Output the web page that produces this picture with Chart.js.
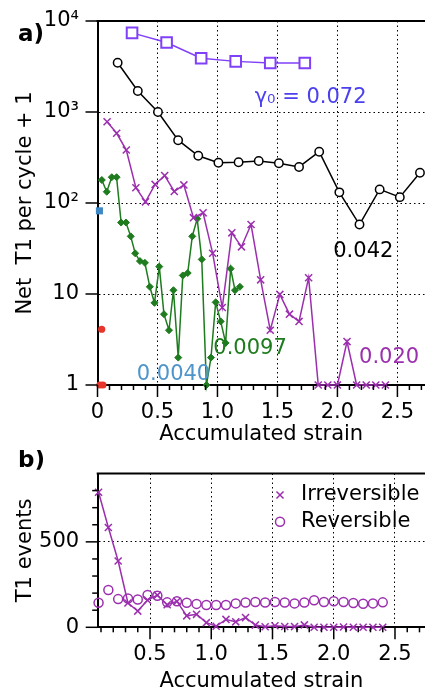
<!DOCTYPE html>
<html>
<head>
<meta charset="utf-8">
<script src="https://cdn.jsdelivr.net/npm/chart.js@4.4.1/dist/chart.umd.min.js"></script>
<style>
  html, body { margin: 0; padding: 0; background: #fff; }
  #wrap { position: relative; width: 425px; height: 700px; overflow: hidden; }
  canvas { position: absolute; left: 0; }
  #topChart { top: 0; }
  #bottomChart { top: 450px; }
</style>
</head>
<body>
<div id="wrap">
  <canvas id="topChart" width="425" height="450"></canvas>
  <canvas id="bottomChart" width="425" height="250"></canvas>
</div>
<script>
// ---- panel a) net T1 per cycle + 1, one series per strain amplitude ----
const strain072 = [0.288, 0.576, 0.864, 1.152, 1.44, 1.728];
const netT1_072 = [7400, 5800, 3900, 3600, 3450, 3450];

const strain042 = [0.168, 0.336, 0.504, 0.672, 0.84, 1.008, 1.176, 1.344, 1.512, 1.68,
                   1.848, 2.016, 2.184, 2.352, 2.52, 2.688];
const netT1_042 = [3480, 1700, 1000, 490, 330, 277, 280, 289, 273, 249,
                   366, 131, 58, 141, 116, 215];

const strain020 = [0.08, 0.16, 0.24, 0.32, 0.4, 0.48, 0.56, 0.64, 0.72, 0.8,
                   0.88, 0.96, 1.04, 1.12, 1.2, 1.28, 1.36, 1.44, 1.52, 1.6,
                   1.68, 1.76, 1.84, 1.92, 2.0, 2.08, 2.16, 2.24, 2.32, 2.4];
const netT1_020 = [782, 584, 382, 147, 103, 160, 200, 134, 158, 69,
                   78, 28, 7.1, 47, 33, 58, 14.3, 4.0, 9.9, 6.0,
                   5.0, 15.1, 1, 1, 1, 3.0, 1, 1, 1, 1];

const strain0097 = [0.036, 0.077, 0.119, 0.159, 0.197, 0.237, 0.277, 0.314, 0.354, 0.395,
                    0.436, 0.475, 0.515, 0.554, 0.596, 0.633, 0.673, 0.711, 0.752, 0.79,
                    0.831, 0.869, 0.908, 0.946, 0.985, 1.027, 1.068, 1.11, 1.146, 1.187];
const netT1_0097 = [179, 133, 192, 192, 61, 61, 43, 28, 23, 22,
                    12, 8.0, 20, 6.0, 4.0, 11, 2.0, 16, 17, 43,
                    67, 24, 1, 2.0, 8.1, 5.0, 2.9, 19, 11, 12];

const strain0040 = [0.016];
const netT1_0040 = [82];

const strainSmall = [0.02, 0.035, 0.045];
const netT1_small = [1, 4.1, 1];

// ---- panel b) T1 events for the 0.020 run ----
const strainB = strain020;
const irreversibleT1 = [790, 584, 388, 142, 95, 159, 188, 132, 152, 67,
                        76, 27, 6, 46, 32, 57, 13, 3, 9, 5,
                        4, 14, 0, 0, 0, 2, 0, 0, 0, 0];
const reversibleT1 = [144, 218, 165, 169, 163, 189, 185, 146, 152, 144,
                      137, 130, 130, 130, 140, 145, 148, 145, 148, 145,
                      140, 145, 158, 148, 152, 148, 142, 138, 140, 146];

// ---- ticks ----
const xMajorA = [0, 0.5, 1, 1.5, 2, 2.5];
const xLabelsA = ['0', '0.5', '1.0', '1.5', '2.0', '2.5'];
const yTicksA = [1, 10, 100, 1000, 10000];
const yLabelsA = ['1', '10', '10²', '10³', '10⁴'];
const xMajorB = [0.5, 1, 1.5, 2, 2.5];
const xLabelsB = ['0.5', '1.0', '1.5', '2.0', '2.5'];
const yMajorB = [0, 500];
const yLabelsB = ['0', '500'];

Chart.defaults.font.family = '"DejaVu Sans"';
Chart.defaults.font.size = 21;
Chart.defaults.color = '#000';

function tickList(from, to, step) {
    const out = [];
    for (let v = from; v <= to + 1e-9; v += step) out.push(Math.round(v * 1000) / 1000);
    return out;
}

function labelFor(value, majors, labels) {
    const i = majors.findIndex(m => Math.abs(m - value) < 1e-6);
    return i < 0 ? '' : labels[i];
}

function points(xs, ys) {
    return xs.map((x, i) => ({ x: x, y: ys[i] }));
}

function dotted(majors, skip) {
    return ctx => {
        const t = ctx.tick;
        if (!t) return 'rgba(0,0,0,0)';
        const isMajor = majors.some(m => Math.abs(m - t.value) < 1e-6);
        const isEdge = skip.some(s => Math.abs(s - t.value) < 1e-6);
        return isMajor && !isEdge ? '#000' : 'rgba(0,0,0,0)';
    };
}

// fixed axis box size, and no extra label padding so the plot area is exact
function fixBox(size) {
    return axis => {
        if (axis.isHorizontal()) axis.height = size; else axis.width = size;
        axis.paddingTop = 0;
        axis.paddingBottom = 0;
        axis.paddingLeft = 0;
        axis.paddingRight = 0;
    };
}

// tick marks, top frame line, panel letter, labels and legend
function makeFrame(cfg) {
    return {
        id: 'frame',
        afterDraw(chart) {
            const { ctx, chartArea: a, scales } = chart;
            ctx.save();
            ctx.strokeStyle = '#000';
            ctx.lineWidth = 1.5;
            scales.x.ticks.forEach(t => {
                const px = scales.x.getPixelForValue(t.value);
                const len = t.label ? 12 : 5;
                ctx.beginPath();
                ctx.moveTo(px, a.bottom);
                ctx.lineTo(px, a.bottom + len);
                ctx.stroke();
            });
            scales.y.ticks.forEach(t => {
                const py = scales.y.getPixelForValue(t.value);
                const len = t.label ? 12 : 5.5;
                ctx.beginPath();
                ctx.moveTo(a.left, py);
                ctx.lineTo(a.left - len, py);
                ctx.stroke();
            });
            ctx.lineWidth = 2;
            ctx.beginPath();
            ctx.moveTo(a.left - 1, a.top);
            ctx.lineTo(chart.width, a.top);
            ctx.stroke();

            ctx.fillStyle = '#000';
            ctx.textBaseline = 'alphabetic';
            ctx.textAlign = 'left';
            ctx.font = 'bold 23px "DejaVu Sans"';
            ctx.fillText(cfg.panel, 18, cfg.panelY);

            ctx.font = '21px "DejaVu Sans"';
            (cfg.notes || []).forEach(n => {
                ctx.fillStyle = n.color;
                ctx.fillText(n.text, scales.x.getPixelForValue(n.x), scales.y.getPixelForValue(n.y));
            });

            if (cfg.legend) {
                cfg.legend.forEach((item, i) => {
                    const ds = chart.data.datasets[item.index];
                    const y = 45 + i * 26.7;
                    ctx.strokeStyle = ds.borderColor;
                    ctx.fillStyle = 'rgba(0,0,0,0)';
                    ctx.lineWidth = 1.5;
                    Chart.helpers.drawPoint(ctx, {
                        pointStyle: ds.pointStyle, rotation: 0,
                        radius: ds.pointRadius, borderWidth: 1.5
                    }, 280, y);
                    ctx.fillStyle = '#000';
                    ctx.textBaseline = 'middle';
                    ctx.fillText(ds.label, 301, y);
                });
            }
            ctx.restore();
        }
    };
}

const purple = '#9b2fae';

const notesA = [
    { text: 'γ₀ = 0.072', x: 1.31, y: 1250, color: '#4b40ee' },
    { text: '0.042', x: 1.965, y: 25.7, color: '#000' },
    { text: '0.020', x: 2.18, y: 1.73, color: purple },
    { text: '0.0097', x: 0.965, y: 2.17, color: '#1e7b1e' },
    { text: '0.0040', x: 0.327, y: 1.135, color: '#4d95cb' }
];

new Chart(document.getElementById('topChart'), {
    type: 'scatter',
    data: {
        datasets: [
            {
                label: '0.072', data: points(strain072, netT1_072), showLine: true,
                borderColor: '#8040f8', borderWidth: 1.5, pointStyle: 'rect', pointRadius: 7.5,
                pointBorderWidth: 2, pointBackgroundColor: '#fff', clip: false
            },
            {
                label: '0.042', data: points(strain042, netT1_042), showLine: true,
                borderColor: '#000', borderWidth: 1.5, pointStyle: 'circle', pointRadius: 4.2,
                pointBorderWidth: 1.5, pointBackgroundColor: '#fff', clip: false
            },
            {
                label: '0.020', data: points(strain020, netT1_020), showLine: true,
                borderColor: purple, borderWidth: 1.5, pointStyle: 'crossRot', pointRadius: 5,
                pointBorderWidth: 1.5, clip: false
            },
            {
                label: '0.0097', data: points(strain0097, netT1_0097), showLine: true,
                borderColor: '#1e7b1e', backgroundColor: '#1e7b1e', borderWidth: 1.5,
                pointStyle: 'rectRot', pointRadius: 3.5, pointBorderWidth: 1, clip: false
            },
            {
                label: '0.0040', data: points(strain0040, netT1_0040), showLine: false,
                borderColor: '#3d88c4', backgroundColor: '#3d88c4', pointStyle: 'rect',
                pointRadius: 5, pointBorderWidth: 0, clip: false
            },
            {
                label: 'small', data: points(strainSmall, netT1_small), showLine: false,
                borderColor: '#e8352b', backgroundColor: '#e8352b', pointStyle: 'circle',
                pointRadius: 3.6, pointBorderWidth: 0, clip: false
            }
        ]
    },
    options: {
        animation: false,
        responsive: false,
        layout: { autoPadding: false, padding: { top: 21, right: 0, bottom: 0, left: 0 } },
        plugins: { legend: { display: false }, tooltip: { enabled: false } },
        scales: {
            x: {
                type: 'linear', min: 0, max: 2.73,
                afterBuildTicks: axis => { axis.ticks = tickList(0, 2.7, 0.1).map(v => ({ value: v })); },
                afterFit: fixBox(65),
                ticks: {
                    autoSkip: false, maxRotation: 0, includeBounds: false, padding: 15,
                    callback: v => labelFor(v, xMajorA, xLabelsA)
                },
                grid: { drawTicks: false, color: dotted(xMajorA, [0]), lineWidth: 1 },
                border: { color: '#000', width: 2, dash: [1.5, 3] },
                title: { display: true, text: 'Accumulated strain', padding: { top: 0, bottom: 3 } }
            },
            y: {
                type: 'logarithmic', min: 1, max: 10000,
                afterBuildTicks: axis => { axis.ticks = yTicksA.map(v => ({ value: v })); },
                afterFit: fixBox(97.5),
                ticks: {
                    autoSkip: false, padding: 18.5,
                    callback: (v, i) => yLabelsA[i]
                },
                grid: { drawTicks: false, color: dotted(yTicksA, [1, 10000]), lineWidth: 1 },
                border: { color: '#000', width: 2, dash: [1.5, 3] },
                title: { display: true, text: 'Net  T1 per cycle + 1', padding: { top: 13.4, bottom: 0 } }
            }
        }
    },
    plugins: [makeFrame({ panel: 'a)', panelY: 41, notes: notesA })]
});

new Chart(document.getElementById('bottomChart'), {
    type: 'scatter',
    data: {
        datasets: [
            {
                label: 'Irreversible', data: points(strainB, irreversibleT1), showLine: true,
                borderColor: purple, borderWidth: 1.5, pointStyle: 'crossRot', pointRadius: 5,
                pointBorderWidth: 1.5, clip: false
            },
            {
                label: 'Reversible', data: points(strainB, reversibleT1), showLine: false,
                borderColor: purple, backgroundColor: 'rgba(0,0,0,0)', pointStyle: 'circle',
                pointRadius: 4.5, pointBorderWidth: 1.5, clip: false
            }
        ]
    },
    options: {
        animation: false,
        responsive: false,
        layout: { autoPadding: false, padding: { top: 23.5, right: 0, bottom: 0, left: 0 } },
        plugins: { legend: { display: false }, tooltip: { enabled: false } },
        scales: {
            x: {
                type: 'linear', min: 0.073, max: 2.745,
                afterBuildTicks: axis => { axis.ticks = tickList(0.1, 2.7, 0.1).map(v => ({ value: v })); },
                afterFit: fixBox(72.7),
                ticks: {
                    autoSkip: false, maxRotation: 0, includeBounds: false, padding: 15,
                    callback: v => labelFor(v, xMajorB, xLabelsB)
                },
                grid: { drawTicks: false, color: dotted(xMajorB, []), lineWidth: 1 },
                border: { color: '#000', width: 2, dash: [1.5, 3] },
                title: { display: true, text: 'Accumulated strain', padding: { top: 0, bottom: 5.8 } }
            },
            y: {
                type: 'linear', min: 0, max: 900,
                afterBuildTicks: axis => { axis.ticks = tickList(0, 800, 100).map(v => ({ value: v })); },
                afterFit: fixBox(97.7),
                ticks: {
                    autoSkip: false, padding: 18.5,
                    callback: v => labelFor(v, yMajorB, yLabelsB)
                },
                grid: { drawTicks: false, color: dotted(yMajorB, [0]), lineWidth: 1 },
                border: { color: '#000', width: 2, dash: [1.5, 3] },
                title: { display: true, text: 'T1 events', padding: { top: 13.4, bottom: 0 } }
            }
        }
    },
    plugins: [makeFrame({ panel: 'b)', panelY: 17, legend: [{ index: 0 }, { index: 1 }] })]
});
</script>
</body>
</html>
